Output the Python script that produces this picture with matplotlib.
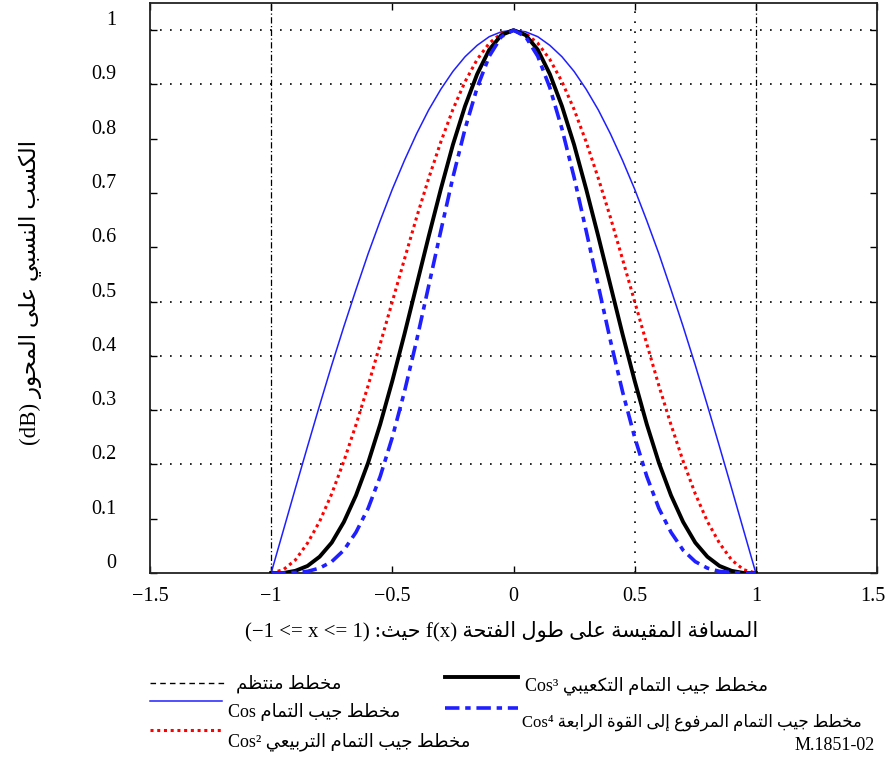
import matplotlib
matplotlib.use('Agg')
import matplotlib.pyplot as plt
from matplotlib.lines import Line2D
from matplotlib.transforms import ScaledTranslation

plt.rcParams['font.family'] = ['Liberation Serif', 'DejaVu Sans']

# aperture position x and relative gain of each taper
X = [-1.00, -0.95, -0.90, -0.85, -0.80, -0.75, -0.70, -0.65, -0.60, -0.55, -0.50,
     -0.45, -0.40, -0.35, -0.30, -0.25, -0.20, -0.15, -0.10, -0.05, 0.00,
     0.05, 0.10, 0.15, 0.20, 0.25, 0.30, 0.35, 0.40, 0.45, 0.50,
     0.55, 0.60, 0.65, 0.70, 0.75, 0.80, 0.85, 0.90, 0.95, 1.00]
COS1 = [0.000, 0.078, 0.156, 0.233, 0.309, 0.383, 0.454, 0.522, 0.588, 0.649, 0.707,
        0.760, 0.809, 0.853, 0.891, 0.924, 0.951, 0.972, 0.988, 0.997, 1.000,
        0.997, 0.988, 0.972, 0.951, 0.924, 0.891, 0.853, 0.809, 0.760, 0.707,
        0.649, 0.588, 0.522, 0.454, 0.383, 0.309, 0.233, 0.156, 0.078, 0.000]
COS2 = [0.000, 0.006, 0.024, 0.055, 0.095, 0.146, 0.206, 0.273, 0.345, 0.422, 0.500,
        0.578, 0.655, 0.727, 0.794, 0.854, 0.905, 0.946, 0.976, 0.994, 1.000,
        0.994, 0.976, 0.946, 0.905, 0.854, 0.794, 0.727, 0.655, 0.578, 0.500,
        0.422, 0.345, 0.273, 0.206, 0.146, 0.095, 0.055, 0.024, 0.006, 0.000]
COS3 = [0.000, 0.000, 0.004, 0.013, 0.030, 0.056, 0.094, 0.143, 0.203, 0.274, 0.354,
        0.440, 0.530, 0.620, 0.707, 0.789, 0.860, 0.919, 0.964, 0.991, 1.000,
        0.991, 0.964, 0.919, 0.860, 0.789, 0.707, 0.620, 0.530, 0.440, 0.354,
        0.274, 0.203, 0.143, 0.094, 0.056, 0.030, 0.013, 0.004, 0.000, 0.000]
COS4 = [0.000, 0.000, 0.001, 0.003, 0.009, 0.021, 0.042, 0.075, 0.119, 0.178, 0.250,
        0.334, 0.428, 0.529, 0.630, 0.729, 0.818, 0.894, 0.952, 0.988, 1.000,
        0.988, 0.952, 0.894, 0.818, 0.729, 0.630, 0.529, 0.428, 0.334, 0.250,
        0.178, 0.119, 0.075, 0.042, 0.021, 0.009, 0.003, 0.001, 0.000, 0.000]
UNIFORM_EDGES = [-1.0, 1.0]

XTICKS = [-1.5, -1.0, -0.5, 0.0, 0.5, 1.0, 1.5]
XTICK_LABELS = ['\u22121.5', '\u22121', '\u22120.5', '0', '0.5', '1', '1.5']
YTICKS = [0.0, 0.1, 0.2, 0.3, 0.4, 0.5, 0.6, 0.7, 0.8, 0.9, 1.0]
YTICK_LABELS = ['0', '0.1', '0.2', '0.3', '0.4', '0.5', '0.6', '0.7', '0.8', '0.9', '1']
GRID_Y = [0.2, 0.3, 0.4, 0.5, 0.9, 1.0]
GRID_X = [0.5]

# matplotlib has no arabic shaping -> map to presentation forms + reverse
FORMS = {'ا': (0xFE8D, 2), 'إ': (0xFE87, 2), 'ب': (0xFE8F, 4), 'ة': (0xFE93, 2),
         'ت': (0xFE95, 4), 'ث': (0xFE99, 4), 'ج': (0xFE9D, 4), 'ح': (0xFEA1, 4),
         'خ': (0xFEA5, 4), 'ر': (0xFEAD, 2), 'س': (0xFEB1, 4), 'ط': (0xFEC1, 4),
         'ظ': (0xFEC5, 4), 'ع': (0xFEC9, 4), 'ف': (0xFED1, 4), 'ق': (0xFED5, 4),
         'ك': (0xFED9, 4), 'ل': (0xFEDD, 4), 'م': (0xFEE1, 4), 'ن': (0xFEE5, 4),
         'و': (0xFEED, 2), 'ى': (0xFEEF, 2), 'ي': (0xFEF1, 4)}


def ar(s):
    out = []
    for i, ch in enumerate(s):
        if ch not in FORMS:
            out.append(ch)
            continue
        base, n = FORMS[ch]
        prev = s[i - 1] if i > 0 else ''
        nxt = s[i + 1] if i + 1 < len(s) else ''
        jp = prev in FORMS and FORMS[prev][1] == 4
        jn = n == 4 and nxt in FORMS
        form = 3 if (jp and jn) else 1 if jp else 2 if jn else 0
        out.append(chr(base + form))
    return ''.join(out)[::-1]


W, H = 886, 759
fig = plt.figure(figsize=(W / 100, H / 100), dpi=100)
ax = fig.add_axes([150 / W, 1 - 573 / H, 727 / W, 570 / H])

for y in GRID_Y:
    ax.axhline(y, color='black', lw=1.2, ls=(0, (1, 5)), zorder=1)
for x in GRID_X:
    ax.axvline(x, color='black', lw=1.2, ls=(0, (1, 5)), zorder=1)
for x in UNIFORM_EDGES:
    ax.axvline(x, color='black', lw=0.9, ls=(0, (5, 2, 1, 2)), zorder=2)

ax.plot(X, COS1, color='#1f1fff', lw=1.1, zorder=3)
ax.plot(X, COS2, color='red', lw=2.2, ls=(0, (1, 1.2)), zorder=4)
ax.plot(X, COS3, color='black', lw=2.8, zorder=5)
ax.plot(X, COS4, color='#1f1fff', lw=2.6, ls=(0, (4, 1.6, 1.5, 1.6)), zorder=6)

ax.set_xlim(-1.5, 1.5)
ax.set_ylim(0, 1.05)
ax.set_xticks(XTICKS)
ax.set_xticklabels(XTICK_LABELS)
ax.set_yticks(YTICKS)
ax.set_yticklabels(YTICK_LABELS)
ax.tick_params(direction='in', top=True, right=True, length=5, width=1,
               labelsize=14.5)
ax.tick_params(axis='x', pad=10)
ax.tick_params(axis='y', pad=24)
for sp in ax.spines.values():
    sp.set_linewidth(1.3)
    sp.set_color('#222222')
# y labels sit a bit above their ticks in the original
off = ScaledTranslation(0, 12 / 100, fig.dpi_scale_trans)
for lab in ax.get_yticklabels():
    lab.set_transform(lab.get_transform() + off)
# keep the last x label inside the figure
last = ax.get_xticklabels()[-1]
last.set_transform(last.get_transform() + ScaledTranslation(-4 / 100, 0, fig.dpi_scale_trans))

fig.text(502 / W, 1 - 632 / H,
         '(\u22121 <= x <= 1) :' + ar('حيث') + ' f(x) ' + ar('المسافة المقيسة على طول الفتحة'),
         ha='center', va='center', fontsize=15)
fig.text(30 / W, 1 - 292 / H, '(dB) ' + ar('الكسب النسبي على المحور'),
         rotation=90, ha='center', va='center', fontsize=16.5)

# legend, drawn by hand below the axes
def leg_line(x0, x1, y, **kw):
    fig.lines.append(Line2D([x0 / W, x1 / W], [1 - y / H, 1 - y / H],
                            transform=fig.transFigure, **kw))

def leg_text(x, y, s, size=13):
    fig.text(x / W, 1 - y / H, s, ha='left', va='center', fontsize=size)

leg_line(150, 225, 683, color='black', lw=1.0, ls=(0, (4, 3)))
leg_text(236, 684, ar('مخطط منتظم'))
leg_line(150, 222, 701, color='#1f1fff', lw=1.1)
leg_text(228, 712, 'Cos ' + ar('مخطط جيب التمام'))
leg_line(150, 222, 730, color='red', lw=2.2, ls=(0, (1, 1.2)))
leg_text(228, 742, 'Cos\u00b2 ' + ar('مخطط جيب التمام التربيعي'))
leg_line(445, 518, 677, color='black', lw=2.8)
leg_text(525, 686, 'Cos\u00b3 ' + ar('مخطط جيب التمام التكعيبي'))
leg_line(445, 518, 708, color='#1f1fff', lw=2.6, ls=(0, (4, 1.6, 1.5, 1.6)))
leg_text(522, 722, 'Cos\u2074 ' + ar('مخطط جيب التمام المرفوع إلى القوة الرابعة'), size=12)
fig.text(875 / W, 1 - 745 / H, 'M.1851-02', ha='right', va='center', fontsize=13)

fig.savefig('out.png', dpi=100)
